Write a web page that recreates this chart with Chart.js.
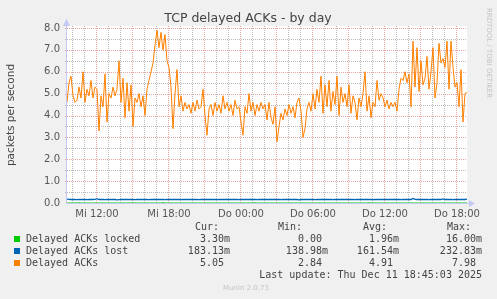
<!DOCTYPE html>
<html>
<head>
<meta charset="utf-8">
<title>TCP delayed ACKs - by day</title>
<script src="https://cdn.jsdelivr.net/npm/chart.js@4.4.1/dist/chart.umd.min.js"></script>
<style>
  html, body { margin: 0; padding: 0; background: #f0f0f0; }
  #wrap { width: 497px; height: 299px; }
</style>
</head>
<body>
<div id="wrap"><canvas id="munin-chart" width="497" height="299"></canvas></div>
<script>
// time axis: hours since Wednesday 00:00, one sample every 10 minutes
const startHour = 9.5;
const endHour = 42.8333;
const stepHour = 1 / 6;

const tickHours = [12, 18, 24, 30, 36, 42];
const tickLabels = ['Mi 12:00', 'Mi 18:00', 'Do 00:00', 'Do 06:00', 'Do 12:00', 'Do 18:00'];

// Delayed ACKs (orange)
const delayedAcks = [
  4.6, 5.5, 5.8, 4.9, 4.6, 4.7, 5.3, 4.8, 6.0, 4.6, 5.2, 4.9, 5.6, 4.8, 5.3, 5.2, 3.3, 4.9, 4.4, 5.9,
  3.7, 5.0, 4.8, 5.3, 4.9, 5.2, 6.5, 4.6, 5.7, 3.9, 5.5, 4.2, 5.4, 3.5, 4.8, 4.6, 5.0, 4.4, 4.9, 4.0,
  5.2, 5.6, 6.0, 6.4, 7.2, 7.9, 7.1, 7.8, 7.0, 7.7, 6.5, 6.2, 5.3, 3.4, 5.0, 6.1, 4.4, 4.9, 4.2, 4.6,
  4.3, 4.5, 4.1, 4.6, 4.2, 4.7, 4.3, 4.4, 5.2, 4.0, 3.1, 4.3, 4.5, 4.0, 4.6, 4.2, 4.5, 4.1, 4.9, 4.3,
  4.6, 4.2, 4.5, 4.0, 4.7, 4.3, 4.4, 3.7, 3.1, 4.4, 4.1, 5.0, 4.2, 4.6, 4.0, 4.5, 4.2, 4.6, 4.3, 4.5,
  3.8, 4.6, 3.9, 3.6, 4.4, 2.8, 3.5, 4.1, 3.8, 4.3, 4.0, 4.5, 4.1, 4.4, 3.9, 4.6, 4.8, 4.2, 3.0, 3.4,
  4.3, 4.6, 4.2, 5.0, 4.3, 5.2, 4.6, 5.8, 4.1, 5.4, 4.4, 5.6, 4.2, 5.1, 4.5, 5.8, 4.0, 5.3, 4.6, 5.0,
  4.4, 5.4, 4.1, 4.9, 4.6, 3.8, 4.8, 4.4, 5.0, 6.0, 4.2, 4.9, 3.9, 4.6, 4.4, 5.6, 4.7, 5.0, 4.8, 4.4,
  4.7, 4.3, 4.6, 4.4, 4.6, 4.2, 5.2, 5.7, 5.6, 6.0, 5.5, 5.9, 4.4, 7.4, 5.3, 7.1, 5.1, 6.5, 5.4, 5.7,
  6.7, 5.2, 6.0, 7.1, 4.8, 5.5, 7.3, 6.4, 6.6, 6.2, 7.4, 5.2, 7.4, 6.2, 5.3, 5.5, 4.4, 6.1, 3.7, 5.0,
  5.05
];

// Delayed ACKs lost (blue)
const acksLost = [
  0.18, 0.17, 0.16, 0.16, 0.16, 0.15, 0.16, 0.16, 0.17, 0.16, 0.15, 0.16, 0.16, 0.16, 0.17, 0.20, 0.16, 0.16, 0.16, 0.15,
  0.16, 0.16, 0.17, 0.16, 0.16, 0.14, 0.15, 0.16, 0.16, 0.16, 0.17, 0.16, 0.16, 0.16, 0.15, 0.16, 0.16, 0.17, 0.16, 0.16,
  0.16, 0.15, 0.16, 0.16, 0.16, 0.16, 0.17, 0.16, 0.16, 0.15, 0.16, 0.16, 0.16, 0.16, 0.16, 0.17, 0.16, 0.15, 0.16, 0.16,
  0.16, 0.16, 0.16, 0.17, 0.16, 0.16, 0.15, 0.16, 0.16, 0.16, 0.16, 0.16, 0.17, 0.16, 0.16, 0.15, 0.16, 0.16, 0.16, 0.16,
  0.16, 0.17, 0.16, 0.16, 0.16, 0.16, 0.15, 0.16, 0.16, 0.16, 0.17, 0.16, 0.16, 0.16, 0.16, 0.15, 0.16, 0.16, 0.16, 0.16,
  0.16, 0.16, 0.17, 0.16, 0.16, 0.16, 0.16, 0.15, 0.16, 0.16, 0.16, 0.16, 0.17, 0.16, 0.16, 0.16, 0.14, 0.16, 0.16, 0.16,
  0.16, 0.16, 0.17, 0.16, 0.15, 0.16, 0.16, 0.16, 0.16, 0.17, 0.16, 0.16, 0.16, 0.15, 0.16, 0.16, 0.16, 0.16, 0.17, 0.16,
  0.16, 0.16, 0.16, 0.16, 0.15, 0.16, 0.16, 0.17, 0.16, 0.16, 0.16, 0.16, 0.16, 0.15, 0.16, 0.16, 0.16, 0.17, 0.16, 0.16,
  0.16, 0.16, 0.16, 0.17, 0.16, 0.16, 0.16, 0.15, 0.16, 0.16, 0.17, 0.16, 0.16, 0.21, 0.17, 0.16, 0.16, 0.16, 0.16, 0.16,
  0.16, 0.15, 0.16, 0.16, 0.17, 0.16, 0.16, 0.16, 0.19, 0.16, 0.16, 0.16, 0.16, 0.15, 0.16, 0.16, 0.17, 0.16, 0.16, 0.16,
  0.18
];

// Delayed ACKs locked (green)
const acksLocked = [
  0, 0, 0, 0, 0, 0, 0.01, 0, 0, 0, 0, 0, 0, 0, 0, 0, 0, 0, 0.003, 0,
  0, 0, 0, 0, 0, 0, 0, 0, 0, 0, 0, 0, 0, 0.01, 0, 0, 0, 0, 0, 0,
  0, 0, 0, 0, 0, 0, 0, 0, 0.016, 0, 0, 0, 0, 0, 0, 0, 0, 0, 0, 0,
  0, 0, 0, 0, 0, 0, 0, 0, 0, 0, 0, 0, 0.003, 0, 0, 0, 0, 0, 0, 0,
  0, 0, 0, 0, 0, 0, 0, 0, 0, 0, 0, 0, 0, 0, 0.01, 0, 0, 0, 0, 0,
  0, 0, 0, 0, 0, 0, 0, 0, 0, 0, 0, 0, 0, 0, 0, 0, 0, 0, 0, 0,
  0, 0, 0, 0, 0, 0, 0.003, 0, 0, 0, 0, 0, 0, 0, 0, 0, 0, 0, 0, 0,
  0, 0, 0, 0, 0, 0, 0, 0, 0, 0, 0, 0.01, 0, 0, 0, 0, 0, 0, 0, 0,
  0, 0, 0, 0, 0, 0, 0, 0, 0, 0, 0, 0, 0, 0, 0, 0, 0, 0, 0.003, 0,
  0, 0, 0, 0, 0, 0, 0, 0, 0, 0, 0, 0, 0, 0, 0, 0, 0, 0, 0, 0,
  0.003
];

// legend table
const seriesNames = ['Delayed ACKs locked', 'Delayed ACKs lost', 'Delayed ACKs'];
const seriesColors = ['#00cc00', '#0066b3', '#ff8000'];
const curValues = ['3.30m', '183.13m', '5.05 '];
const minValues = ['0.00 ', '138.98m', '2.84 '];
const avgValues = ['1.96m', '161.54m', '4.91 '];
const maxValues = ['16.00m', '232.83m', '7.98 '];

const times = delayedAcks.map((_, i) => startHour + i * stepHour);
const toPoints = arr => arr.map((v, i) => ({ x: times[i], y: v }));

const MAJOR = 'rgb(234, 165, 165)';
const MINOR = 'rgb(186, 186, 186)';
const AXIS = 'rgb(196, 200, 245)';
const TEXT = '#555';

// draws the munin decorations: white plot area, dotted grid, axes with arrows, titles, legend table
const muninDecor = {
    id: 'muninDecor',
    beforeDraw(chart) {
        const { ctx, chartArea: a } = chart;
        ctx.save();
        ctx.fillStyle = '#ffffff';
        ctx.fillRect(a.left, a.top - 2, a.right - a.left, a.bottom - a.top + 2);
        ctx.restore();
    },
    beforeDatasetsDraw(chart) {
        const { ctx, chartArea: a } = chart;
        const xs = chart.scales.x;
        const ys = chart.scales.y;
        ctx.save();

        // dotted grid, one pixel on / one off; minor first, major on top
        const vDots = col => {
            for (let p = Math.round(a.bottom) - 1; p >= a.top - 2; p -= 2) ctx.fillRect(col, p, 1, 1);
        };
        const hDots = row => {
            for (let p = Math.round(a.left) - 2; p < a.right; p += 2) ctx.fillRect(p, row, 1, 1);
        };
        ctx.fillStyle = MINOR;
        for (let h = 10; h <= 42; h++) {
            if (h % 3 !== 0) vDots(Math.round(xs.getPixelForValue(h)) - 1);
        }
        for (let v = 0.5; v < 8; v += 1) {
            hDots(Math.round(ys.getPixelForValue(v)));
        }
        ctx.fillStyle = MAJOR;
        for (let h = 12; h <= 42; h += 3) {
            vDots(Math.round(xs.getPixelForValue(h)) - 1);
        }
        for (let v = 1; v <= 8; v++) {
            hDots(Math.round(ys.getPixelForValue(v)));
        }

        // axes with arrows
        ctx.strokeStyle = AXIS;
        ctx.fillStyle = AXIS;
        ctx.lineWidth = 1;
        ctx.beginPath();
        ctx.moveTo(a.left - 0.5, a.bottom + 1);
        ctx.lineTo(a.left - 0.5, a.top - 5);
        ctx.moveTo(a.left - 1, a.bottom + 0.5);
        ctx.lineTo(a.right + 4, a.bottom + 0.5);
        ctx.stroke();
        ctx.beginPath();
        ctx.moveTo(a.left - 4, a.top - 2);
        ctx.lineTo(a.left + 3, a.top - 2);
        ctx.lineTo(a.left - 0.5, a.top - 9);
        ctx.closePath();
        ctx.fill();
        ctx.beginPath();
        ctx.moveTo(a.right + 2, a.bottom - 3);
        ctx.lineTo(a.right + 2, a.bottom + 4);
        ctx.lineTo(a.right + 8, a.bottom + 0.5);
        ctx.closePath();
        ctx.fill();
        ctx.restore();
    },
    afterDraw(chart) {
        const { ctx } = chart;
        ctx.save();
        ctx.textBaseline = 'middle';

        // title
        ctx.fillStyle = '#444';
        ctx.font = '12.5px "DejaVu Sans"';
        ctx.textAlign = 'center';
        ctx.fillText('TCP delayed ACKs - by day', 248, 19);

        // y axis title
        ctx.save();
        ctx.translate(11, 115);
        ctx.rotate(-Math.PI / 2);
        ctx.font = '10.5px "DejaVu Sans"';
        ctx.fillStyle = '#444';
        ctx.fillText('packets per second', 0, 0);
        ctx.restore();

        // rrdtool credit
        ctx.save();
        ctx.translate(489, 53);
        ctx.rotate(Math.PI / 2);
        ctx.font = '7px "DejaVu Sans"';
        ctx.fillStyle = '#c4c4c4';
        ctx.fillText('RRDTOOL / TOBI OETIKER', 0, 0);
        ctx.restore();

        // legend table
        ctx.font = '10px "DejaVu Sans Mono"';
        ctx.fillStyle = '#444';
        ctx.textAlign = 'left';
        ctx.fillText('Cur:', 195, 227);
        ctx.fillText('Min:', 278, 227);
        ctx.fillText('Avg:', 363, 227);
        ctx.fillText('Max:', 447, 227);

        const rowY = [239, 251, 263];
        seriesNames.forEach((name, i) => {
            const y = rowY[i];
            ctx.fillStyle = seriesColors[i];
            ctx.fillRect(14, y - 3, 6, 6);
            ctx.fillStyle = '#444';
            ctx.textAlign = 'left';
            ctx.fillText(name, 26, y);
            ctx.textAlign = 'right';
            ctx.fillText(curValues[i], 230, y);
            ctx.fillText(minValues[i], 328, y);
            ctx.fillText(avgValues[i], 399, y);
            ctx.fillText(maxValues[i], 482, y);
        });
        ctx.textAlign = 'right';
        ctx.fillText('Last update: Thu Dec 11 18:45:03 2025', 482, 275);

        ctx.textAlign = 'center';
        ctx.font = '7px "DejaVu Sans"';
        ctx.fillStyle = '#c4c4c4';
        ctx.fillText('Munin 2.0.73', 246, 288);
        ctx.restore();
    }
};

const ctx = document.getElementById('munin-chart').getContext('2d');

const config = {
    type: 'line',
    data: {
        datasets: [
            {
                label: seriesNames[2],
                data: toPoints(delayedAcks),
                borderColor: seriesColors[2],
                borderWidth: 1,
                order: 0
            },
            {
                label: seriesNames[1],
                data: toPoints(acksLost),
                borderColor: seriesColors[1],
                borderWidth: 1.3,
                order: 1
            },
            {
                label: seriesNames[0],
                data: toPoints(acksLocked),
                borderColor: seriesColors[0],
                borderWidth: 1,
                order: 2
            }
        ]
    },
    options: {
        responsive: false,
        animation: false,
        layout: { padding: { left: 0, top: 28, right: 30, bottom: 0 } },
        elements: {
            point: { radius: 0 },
            line: { tension: 0, fill: false }
        },
        plugins: {
            legend: { display: false },
            title: { display: false },
            tooltip: { enabled: false }
        },
        scales: {
            x: {
                type: 'linear',
                min: startHour,
                max: endHour,
                afterBuildTicks: scale => {
                    scale.ticks = tickHours.map(h => ({ value: h }));
                },
                afterFit: scale => { scale.height = 96; },
                grid: { display: false, drawTicks: false },
                border: { display: false },
                ticks: {
                    autoSkip: false,
                    maxRotation: 0,
                    padding: 5,
                    color: TEXT,
                    font: { family: 'DejaVu Sans', size: 10 },
                    callback: v => {
                        const k = tickHours.indexOf(v);
                        return k >= 0 ? tickLabels[k] : '';
                    }
                }
            },
            y: {
                min: 0,
                max: 8,
                afterBuildTicks: scale => {
                    scale.ticks = [];
                    for (let v = 0; v <= 8; v++) scale.ticks.push({ value: v });
                },
                afterFit: scale => { scale.width = 67; },
                grid: { display: false, drawTicks: false },
                border: { display: false },
                ticks: {
                    padding: 7,
                    color: TEXT,
                    font: { family: 'DejaVu Sans', size: 10 },
                    callback: v => v.toFixed(1)
                }
            }
        }
    },
    plugins: [muninDecor]
};

const muninChart = new Chart(ctx, config);
</script>
</body>
</html>
